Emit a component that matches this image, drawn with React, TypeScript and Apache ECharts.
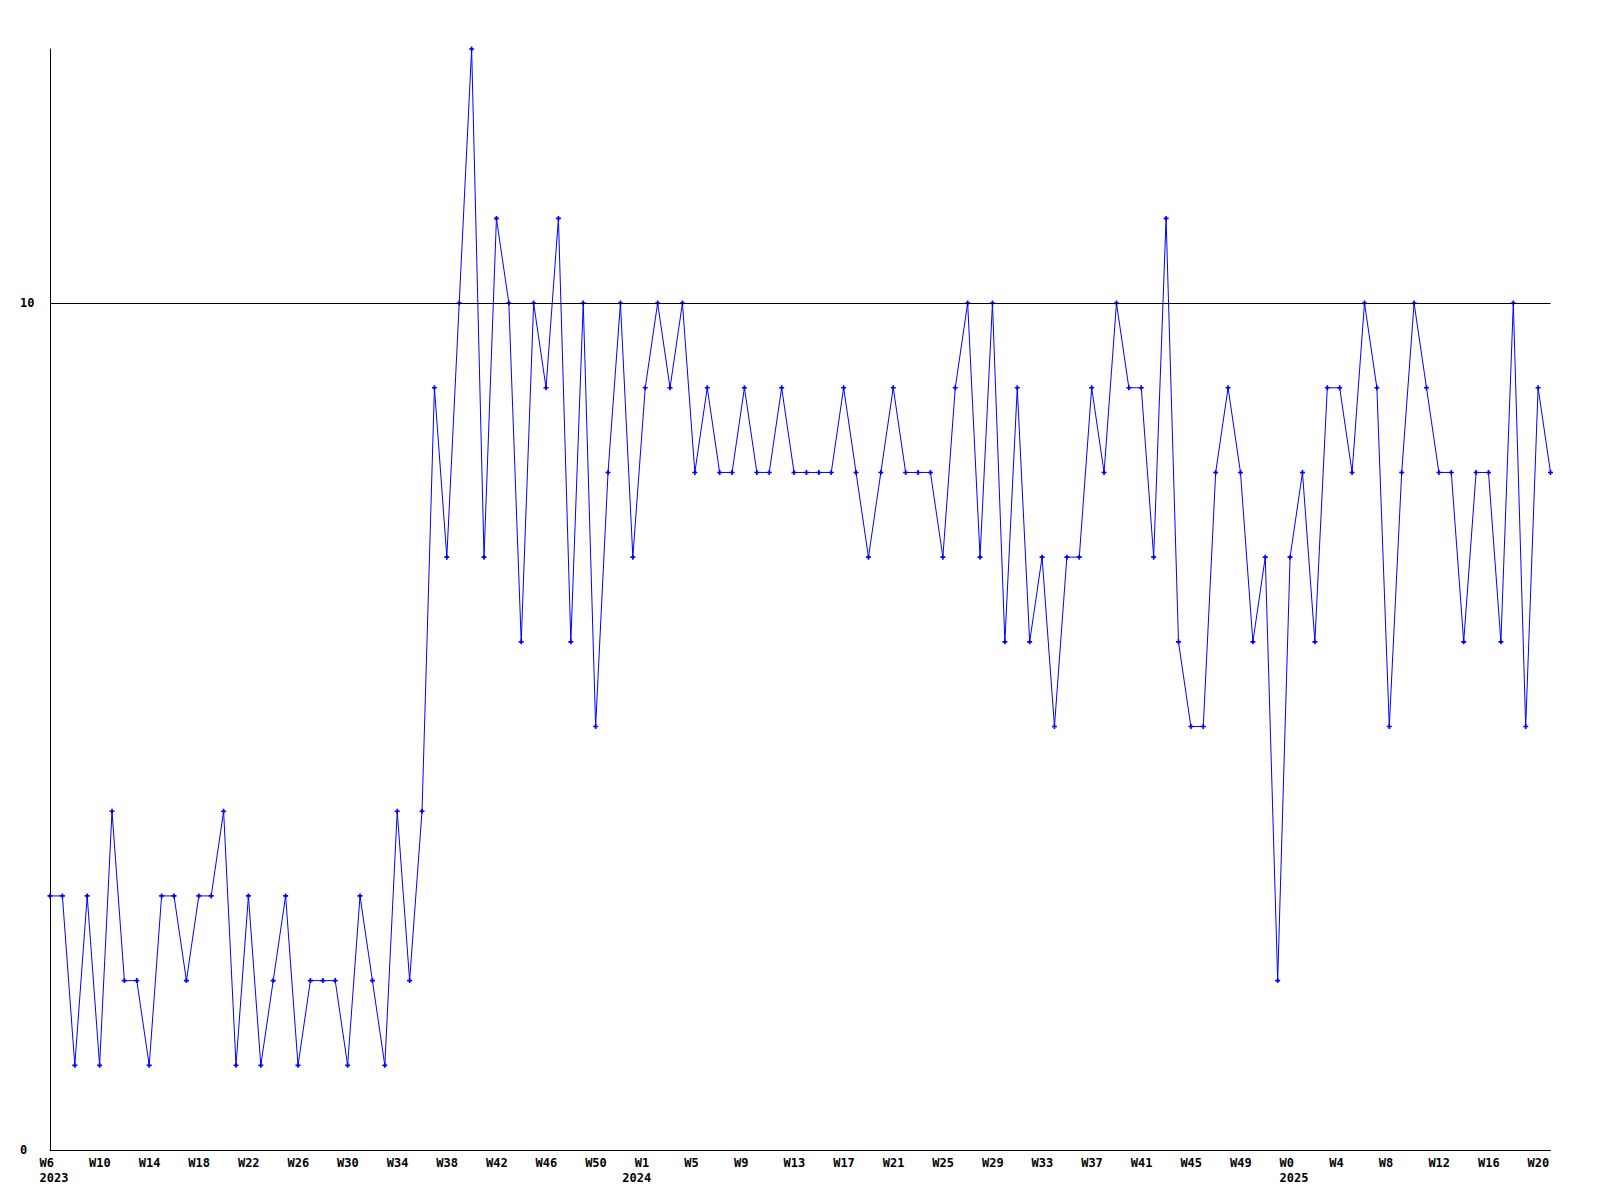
import React, { useEffect, useRef } from "react";
import * as echarts from "echarts";

// Week numbers per year (as labelled on the chart)
const weeks2023: number[] = [6,7,8,9,10,11,12,13,14,15,16,17,18,19,20,21,22,23,24,25,26,27,28,29,30,31,32,33,34,35,36,37,38,39,40,41,42,43,44,45,46,47,48,49,50,51,52];
const weeks2024: number[] = [0,1,2,3,4,5,6,7,8,9,10,11,12,13,14,15,16,17,18,19,20,21,22,23,24,25,26,27,28,29,30,31,32,33,34,35,36,37,38,39,40,41,42,43,44,45,46,47,48,49,50,51,52];
const weeks2025: number[] = [0,1,2,3,4,5,6,7,8,9,10,11,12,13,14,15,16,17,18,19,20,21];

// Series values
const values2023: number[] = [3,3,1,3,1,4,2,2,1,3,3,2,3,3,4,1,3,1,2,3,1,2,2,2,1,3,2,1,4,2,4,9,7,10,13,7,11,10,6,10,9,11,6,10,5,8,10];
const values2024: number[] = [7,9,10,9,10,8,9,8,8,9,8,8,9,8,8,8,8,9,8,7,8,9,8,8,8,7,9,10,7,10,6,9,6,7,5,7,7,9,8,10,9,9,7,11,6,5,5,8,9,8,6,7,2];
const values2025: number[] = [7,8,6,9,9,8,10,9,5,8,10,9,8,8,6,8,8,6,10,5,9,8];

const referenceLine = 10;
const yTickLabels: number[] = [0, 10];

type Cat = { week: string; year: string; yearStart: boolean };

const categories: Cat[] = [];
[["2023", weeks2023], ["2024", weeks2024], ["2025", weeks2025]].forEach(([y, ws]) => {
  (ws as number[]).forEach((w, k) => {
    categories.push({ week: "W" + w, year: y as string, yearStart: k === 0 });
  });
});
const values: number[] = [...values2023, ...values2024, ...values2025];

const FONT = "'DejaVu Sans Mono', monospace";

export default function App() {
  const ref = useRef<HTMLDivElement>(null);
  useEffect(() => {
    if (!ref.current) return;
    const chart = echarts.init(ref.current, undefined, { renderer: "svg" });
    const labelStyle = {
      width: 21,
      align: "left",
      fontFamily: FONT,
      fontSize: 12,
      fontWeight: "bold",
      lineHeight: 15,
      color: "#000",
    };
    chart.setOption({
      animation: false,
      backgroundColor: "#fff",
      grid: { left: 50, right: 49.5, top: 49, bottom: 50, containLabel: false },
      xAxis: {
        type: "category",
        data: categories.map((c, i) => String(i)),
        boundaryGap: false,
        axisLine: { show: true, lineStyle: { color: "#000", width: 1 } },
        axisTick: { show: false },
        splitLine: { show: false },
        axisLabel: {
          interval: (i: number) => i % 4 === 0 || categories[i].yearStart,
          margin: 5,
          align: "center",
          formatter: (_v: string, i: number) => {
            const c = categories[i];
            const w = i % 4 === 0 ? c.week : " ";
            return c.yearStart ? `{w|${w}}\n{y|${c.year}}` : `{w|${w}}`;
          },
          rich: { w: labelStyle, y: labelStyle },
        },
      },
      yAxis: {
        type: "value",
        min: 0,
        max: 13,
        interval: 10,
        axisLine: { show: true, lineStyle: { color: "#000", width: 1 } },
        axisTick: { show: false },
        splitLine: { show: false },
        axisLabel: {
          align: "left",
          margin: 30,
          fontFamily: FONT,
          fontSize: 12,
          fontWeight: "bold",
          color: "#000",
          formatter: (v: number) => (yTickLabels.includes(v) ? String(v) : ""),
        },
      },
      series: [
        {
          type: "line",
          data: values,
          showAllSymbol: true,
          symbol: "path://M1,0H2V1H3V2H2V3H1V2H0V1H1Z",
          symbolSize: 5,
          itemStyle: { color: "#0000ff" },
          lineStyle: { color: "#0000ff", width: 1 },
          markLine: {
            silent: true,
            symbol: ["none", "none"],
            label: { show: false },
            lineStyle: { color: "#000", width: 1, type: "solid" },
            data: [{ yAxis: referenceLine }],
          },
        },
      ],
    });
    return () => chart.dispose();
  }, []);
  return (
    <div
      ref={ref}
      style={{ position: "absolute", left: 0, top: 0, width: 1600, height: 1200, background: "#fff" }}
    />
  );
}
